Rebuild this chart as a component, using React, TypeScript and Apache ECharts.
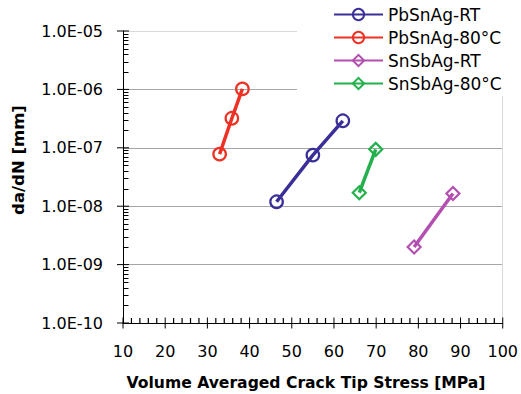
import React, { useEffect, useRef } from "react";
import * as echarts from "echarts";

const seriesNames = ["PbSnAg-RT", "PbSnAg-80°C", "SnSbAg-RT", "SnSbAg-80°C"];
const seriesColors = ["#3a2f98", "#ee3124", "#b24fb0", "#23b14d"];
const seriesSymbols = ["circle", "circle", "diamond", "diamond"];

const pbSnAgRT: [number, number][] = [[46.4, 1.19e-8], [55.0, 7.5e-8], [62.1, 2.9e-7]];
const pbSnAg80: [number, number][] = [[32.9, 7.8e-8], [35.8, 3.2e-7], [38.3, 1.02e-6]];
const snSbAgRT: [number, number][] = [[79.0, 2.0e-9], [88.2, 1.65e-8]];
const snSbAg80: [number, number][] = [[66.0, 1.7e-8], [69.9, 9.4e-8]];
const seriesData = [pbSnAgRT, pbSnAg80, snSbAgRT, snSbAg80];

const xMin = 10;
const xMax = 100;
const xInterval = 10;
const xMinorStep = 2;
const yMin = 1e-10;
const yMax = 1e-5;
const yDecades = [-10, -9, -8, -7, -6, -5];

const xTitle = "Volume Averaged Crack Tip Stress [MPa]";
const yTitle = "da/dN [mm]";

const FONT = "DejaVu Sans";

export default function App() {
  const ref = useRef<HTMLDivElement>(null);
  useEffect(() => {
    if (!ref.current) return;
    const chart = echarts.init(ref.current, null, { renderer: "svg" });

    const yMajor = yDecades.map((e) => [xMin, Math.pow(10, e)]);
    const yMinor: number[][] = [];
    yDecades.slice(0, -1).forEach((e) => {
      for (let k = 2; k <= 9; k++) yMinor.push([xMin, k * Math.pow(10, e)]);
    });
    const xMajor: number[][] = [];
    const xMinor: number[][] = [];
    for (let v = xMin; v <= xMax + 1e-9; v += xMinorStep) {
      if ((v - xMin) % xInterval === 0) xMajor.push([v, yMin]);
      else xMinor.push([v, yMin]);
    }

    const tickSeries = (data: number[][], size: number[], offset: number[]) => ({
      type: "scatter",
      data,
      symbol: "rect",
      symbolSize: size,
      symbolOffset: offset,
      itemStyle: { color: "#000", opacity: 1 },
      clip: false,
      silent: true,
      z: 5,
    });

    const lineSeries = seriesNames.map((name, i) => ({
      name,
      type: "line",
      data: seriesData[i],
      symbol: seriesSymbols[i],
      symbolSize: seriesSymbols[i] === "circle" ? 12.5 : 13,
      lineStyle: { color: seriesColors[i], width: 3.5 },
      itemStyle: { color: "rgba(0,0,0,0)", borderColor: seriesColors[i], borderWidth: 2.2 },
      z: 3,
    }));

    const splitColors = yDecades.map((e, i) => (i === yDecades.length - 1 ? "#d9d9d9" : "#a6a6a6"));

    chart.setOption({
      animation: false,
      grid: { left: 123, right: 16, top: 31, bottom: 71 },
      legend: {
        data: seriesNames,
        orient: "vertical",
        left: 297,
        top: 0,
        backgroundColor: "#ffffff",
        padding: [6, 20, 4, 36],
        itemWidth: 49,
        itemHeight: 14,
        itemGap: 6,
        textStyle: { fontFamily: FONT, fontSize: 17, color: "#000" },
        z: 10,
      },
      xAxis: {
        type: "value",
        min: xMin,
        max: xMax,
        interval: xInterval,
        axisLine: { show: true, onZero: false, lineStyle: { color: "#000", width: 1 } },
        axisTick: { show: false },
        axisLabel: { fontFamily: FONT, fontSize: 16, color: "#000", margin: 20 },
        splitLine: { show: false },
      },
      yAxis: [
        {
          type: "log",
          logBase: 10,
          min: yMin,
          max: yMax,
          axisLine: { show: true, lineStyle: { color: "#000", width: 1 } },
          axisTick: { show: false },
          axisLabel: {
            fontFamily: FONT,
            fontSize: 16,
            color: "#000",
            margin: 20,
            formatter: (v: number) => {
              const e = Math.round(Math.log10(v));
              return "1.0E-" + String(-e).padStart(2, "0");
            },
          },
          splitLine: { show: true, lineStyle: { color: splitColors, width: 1 } },
        },
        {
          type: "log",
          logBase: 10,
          min: yMin,
          max: yMax,
          position: "right",
          axisLine: { show: true, lineStyle: { color: "#d9d9d9", width: 1 } },
          axisTick: { show: false },
          axisLabel: { show: false },
          splitLine: { show: false },
        },
      ],
      graphic: [
        {
          type: "text",
          x: 306,
          y: 383,
          style: {
            text: xTitle,
            font: `bold 15.6px "${FONT}"`,
            fill: "#000",
            align: "center",
            verticalAlign: "middle",
            textAlign: "center",
            textVerticalAlign: "middle",
          },
        },
        {
          type: "text",
          x: 18,
          y: 160,
          rotation: Math.PI / 2,
          style: {
            text: yTitle,
            font: `bold 16.5px "${FONT}"`,
            fill: "#000",
            align: "center",
            verticalAlign: "middle",
            textAlign: "center",
            textVerticalAlign: "middle",
          },
        },
      ],
      series: [
        ...lineSeries,
        tickSeries(yMajor, [12, 1], [0, 0]),
        {
          type: "custom",
          data: yMinor,
          encode: { x: 0, y: 1 },
          clip: false,
          silent: true,
          z: 5,
          renderItem: (params: any, api: any) => {
            const p = api.coord([api.value(0), api.value(1)]);
            const y = Math.round(p[1]) + 0.5;
            return {
              type: "line",
              shape: { x1: p[0], y1: y, x2: p[0] + 5.5, y2: y },
              style: { stroke: "#000", lineWidth: 1 },
            };
          },
        },
        tickSeries(xMajor, [1, 11], [0, 0]),
        tickSeries(xMinor, [1.2, 5], [0, -2.5]),
      ],
    });
    return () => chart.dispose();
  }, []);
  return (
    <div
      ref={ref}
      style={{ position: "fixed", left: 0, top: 0, width: 521, height: 394, background: "#fff" }}
    />
  );
}
